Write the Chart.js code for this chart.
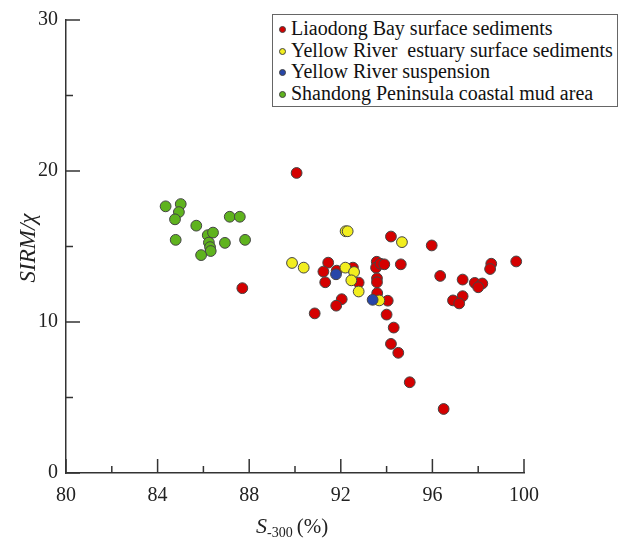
<!DOCTYPE html>
<html>
<head>
<meta charset="utf-8">
<script src="https://cdn.jsdelivr.net/npm/chart.js@4"></script>
<style>
  html, body { margin:0; padding:0; background:#fff; }
  #wrap { position:relative; width:619px; height:539px; }
  #legendBox {
    position:absolute; left:272px; top:14px; width:346px; height:93px;
    border:1px solid #666; background:#fff; box-sizing:border-box;
    font-family:'Liberation Serif'; font-size:20px; color:#111;
    padding:3px 0 0 6px;
  }
  .item { height:21.5px; line-height:21.5px; white-space:pre; }
  .dot { display:inline-block; width:7px; height:7px; border-radius:50%; border:1px solid #444;
         margin-right:5px; vertical-align:2px; box-sizing:border-box; }
</style>
</head>
<body>
<div id="wrap">
  <canvas id="c" width="619" height="539"></canvas>
  <div id="legendBox"></div>
</div>
<script>
// --- données ---
const seriesNames = [
  "Liaodong Bay surface sediments",
  "Yellow River  estuary surface sediments",
  "Yellow River suspension",
  "Shandong Peninsula coastal mud area"
];
const seriesColors = ["#d40000", "#f2ee1e", "#2746a8", "#5fb31e"];

const liaodongX = [87.7, 90.07, 94.19, 95.97, 91.45, 91.24, 91.82, 92.53, 92.78, 91.32,
  93.57, 93.54, 93.73, 93.9, 94.62, 93.58, 93.58, 93.59, 94.05, 92.04, 91.8, 90.86, 94.0,
  94.31, 94.19, 94.51, 95.01, 96.49, 96.34, 97.32, 98.57, 98.52, 99.66, 97.85, 98.18,
  98.0, 97.32, 96.9, 97.17];
const liaodongY = [12.24, 19.87, 15.66, 15.07, 13.93, 13.34, 13.4, 13.6, 12.61, 12.63,
  13.99, 13.6, 13.86, 13.82, 13.82, 12.89, 12.63, 11.91, 11.41, 11.51, 11.08, 10.57, 10.49,
  9.63, 8.55, 7.96, 6.01, 4.24, 13.05, 12.81, 13.86, 13.51, 14.01, 12.59, 12.55,
  12.3, 11.71, 11.43, 11.23];

const estuaryX = [92.21, 92.3, 89.87, 90.38, 92.2, 92.58, 92.46, 92.78, 93.68, 94.67];
const estuaryY = [16.01, 16.01, 13.91, 13.6, 13.6, 13.31, 12.76, 12.02, 11.43, 15.29];

const suspensionX = [91.79, 93.39];
const suspensionY = [13.16, 11.47];

const shandongX = [84.35, 85.01, 84.93, 84.76, 84.79, 85.69, 86.19, 86.42, 86.24, 86.29,
  86.32, 85.9, 86.94, 87.15, 87.59, 87.82];
const shandongY = [17.66, 17.81, 17.28, 16.8, 15.44, 16.38, 15.75, 15.92, 15.26, 14.96,
  14.7, 14.43, 15.24, 16.97, 16.97, 15.44];

const xTicks = [80, 84, 88, 92, 96, 100];
const yTicks = [0, 10, 20, 30];

function pts(xs, ys){ return xs.map((x,i)=>({x:x, y:ys[i]})); }

// légende HTML
const lg = document.getElementById("legendBox");
seriesNames.forEach((n,i)=>{
  const d = document.createElement("div");
  d.className = "item";
  d.innerHTML = '<span class="dot" style="background:'+seriesColors[i]+'"></span>';
  d.appendChild(document.createTextNode(n));
  lg.appendChild(d);
});

const serif = "'Liberation Serif'";

// ticks vers l'intérieur + titres d'axes
const axisDeco = {
  id:"axisDeco",
  afterDraw(chart){
    const ctx = chart.ctx, xs = chart.scales.x, ys = chart.scales.y;
    ctx.save();
    ctx.strokeStyle = "#333"; ctx.lineWidth = 1.5;
    xs.ticks.forEach(t=>{
      const px = xs.getPixelForValue(t.value);
      const len = (t.value % 4 === 0) ? 14 : 7;
      ctx.beginPath(); ctx.moveTo(px, ys.bottom); ctx.lineTo(px, ys.bottom - len); ctx.stroke();
    });
    ys.ticks.forEach(t=>{
      const py = ys.getPixelForValue(t.value);
      const len = (t.value % 10 === 0) ? 14 : 7;
      ctx.beginPath(); ctx.moveTo(xs.left, py); ctx.lineTo(xs.left + len, py); ctx.stroke();
    });
    ctx.fillStyle = "#222";
    // titre x : S-300 (%)
    ctx.textBaseline = "alphabetic";
    ctx.textAlign = "left";
    let x0 = 256, yb = 533;
    ctx.font = "italic 22px " + serif;
    ctx.fillText("S", x0, yb);
    x0 += ctx.measureText("S").width;
    ctx.font = "14px " + serif;
    ctx.fillText("-300", x0, yb + 4);
    x0 += ctx.measureText("-300").width + 4;
    ctx.font = "21px " + serif;
    ctx.fillText("(%)", x0, yb);
    // titre y : SIRM/χ
    ctx.translate(35, 248);
    ctx.rotate(-Math.PI/2);
    ctx.textAlign = "center";
    ctx.font = "italic 23px " + serif;
    ctx.fillText("SIRM/\u03c7", 0, 0);
    ctx.restore();
  }
};

new Chart(document.getElementById("c").getContext("2d"), {
  type:"scatter",
  data:{
    datasets:[
      {label:seriesNames[0], data:pts(liaodongX, liaodongY), backgroundColor:seriesColors[0], order:3},
      {label:seriesNames[1], data:pts(estuaryX, estuaryY), backgroundColor:seriesColors[1], order:1},
      {label:seriesNames[2], data:pts(suspensionX, suspensionY), backgroundColor:seriesColors[2], order:0},
      {label:seriesNames[3], data:pts(shandongX, shandongY), backgroundColor:seriesColors[3], order:2}
    ].map(d=>Object.assign(d, {pointRadius:5.4, borderColor:"#444", borderWidth:1, pointHoverRadius:5.4}))
  },
  options:{
    responsive:false, animation:false,
    layout:{padding:{top:17, right:95, left:0, bottom:0}},
    plugins:{legend:{display:false}, tooltip:{enabled:false}},
    scales:{
      x:{
        type:"linear", min:80, max:100,
        afterFit(s){ s.height = 66; },
        grid:{display:false, drawTicks:false},
        border:{display:true, color:"#333", width:1.5},
        ticks:{stepSize:2, padding:11, color:"#222", font:{family:serif, size:20},
          callback:v => xTicks.includes(v) ? String(v) : ""}
      },
      y:{
        type:"linear", min:0, max:30,
        afterFit(s){ s.width = 66; },
        grid:{display:false, drawTicks:false},
        border:{display:true, color:"#333", width:1.5},
        ticks:{stepSize:5, padding:8, color:"#222", font:{family:serif, size:20},
          callback:v => yTicks.includes(v) ? String(v) : ""}
      }
    }
  },
  plugins:[axisDeco]
});
</script>
</body>
</html>
